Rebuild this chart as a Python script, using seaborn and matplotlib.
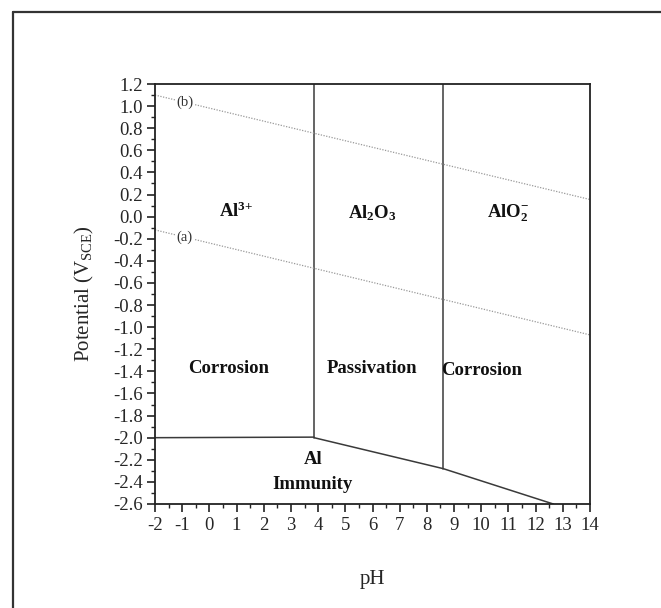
#import libraries
import numpy as np
import pandas as pd
import seaborn as sns
import matplotlib.pyplot as plt
from matplotlib.lines import Line2D

# boundary data for the Al Pourbaix diagram (pH, potential V_SCE)
low_ph = [-2, 3.85]
low_e = [-2.0, -1.995]
slope_ph = [3.85, 8.6, 12.65]
slope_e = [-2.0, -2.28, -2.6]
vert1_ph = [3.85, 3.85]
vert1_e = [-2.0, 1.2]
vert2_ph = [8.6, 8.6]
vert2_e = [-2.28, 1.2]
# water stability lines
line_a_ph = [-2, 14]
line_a_e = [-0.12, -1.07]
line_b_ph = [-2, 14]
line_b_e = [1.1, 0.155]

sns.set_style("ticks")
plt.rcParams['font.family'] = ['Liberation Serif', 'DejaVu Serif']
plt.rcParams['mathtext.fontset'] = 'custom'
plt.rcParams['mathtext.rm'] = 'Liberation Serif'
plt.rcParams['mathtext.it'] = 'Liberation Serif:italic'
plt.rcParams['mathtext.bf'] = 'Liberation Serif:bold'
plt.rcParams['axes.unicode_minus'] = False

fig = plt.figure(figsize=(6.61, 6.08), dpi=100)
ax = fig.add_axes([155/661, 1-504/608, (590-155)/661, (504-84)/608])

# outer frame (only left/top visible in the reference)
fx, fy = 12.5/661, 1-11.5/608
fig.lines.append(Line2D([fx, fx], [-0.05, fy], transform=fig.transFigure, color='#333333', lw=1.6))
fig.lines.append(Line2D([fx, 1.05], [fy, fy], transform=fig.transFigure, color='#333333', lw=1.6))

solid = dict(color='#3a3a3a', lw=1.1, sort=False, estimator=None, legend=False, ax=ax)
sns.lineplot(x=low_ph, y=low_e, **solid)
sns.lineplot(x=slope_ph, y=slope_e, **solid)
sns.lineplot(x=vert1_ph, y=vert1_e, **solid)
sns.lineplot(x=vert2_ph, y=vert2_e, **solid)
dot = dict(color='#999999', lw=0.9, sort=False, estimator=None, legend=False, ax=ax)
sns.lineplot(x=line_a_ph, y=line_a_e, linestyle=(0, (1, 1.2)), **dot)
sns.lineplot(x=line_b_ph, y=line_b_e, linestyle=(0, (1, 1.2)), **dot)

ax.text(-0.9, 1.035, "(b)", fontsize=10.5, ha='center', va='center', color='#333333',
        bbox=dict(facecolor='white', edgecolor='none', pad=0.5))
ax.text(-0.9, -0.185, "(a)", fontsize=10.5, ha='center', va='center', color='#333333',
        bbox=dict(facecolor='white', edgecolor='none', pad=0.5))

lab = dict(fontsize=13.5, ha='center', va='center', fontweight='bold', color='#111111')
ax.text(1.0, 0.05, r"$\mathbf{Al^{3{+}}}$", **lab)
ax.text(6.0, 0.03, r"$\mathbf{Al_2O_3}$", **lab)
ax.text(11.0, 0.03, r"$\mathbf{AlO_2^{-}}$", **lab)
ax.text(0.7, -1.37, "Corrosion", **lab)
ax.text(6.0, -1.37, "Passivation", **lab)
ax.text(10.0, -1.39, "Corrosion", **lab)
ax.text(3.8, -2.2, "Al", **lab)
ax.text(3.8, -2.42, "Immunity", **lab)

ax.set_xlim(-2, 14)
ax.set_ylim(-2.6, 1.2)
ax.set_xticks(np.arange(-2, 15, 1))
ax.set_xticks(np.arange(-2, 14.01, 0.5), minor=True)
ax.set_yticks(np.round(np.arange(-2.6, 1.21, 0.2), 1))
ax.set_yticks(np.arange(-2.6, 1.21, 0.1), minor=True)
ax.set_xticklabels([str(v) for v in range(-2, 15)])
ax.set_yticklabels(["%.1f" % v for v in np.round(np.arange(-2.6, 1.21, 0.2), 1)])
ax.tick_params(which='major', length=6, width=1.2, labelsize=13.5, direction='out', color='#222222', pad=3)
ax.tick_params(which='minor', length=3, width=1.0, direction='out', color='#222222')
for s in ax.spines.values():
    s.set_linewidth(1.3)
    s.set_color('#222222')

ax.set_xlabel("pH", fontsize=15, labelpad=26)
ax.set_ylabel(r"Potential (V$_{\mathrm{SCE}}$)", fontsize=15, labelpad=12)

fig.savefig("out.png", dpi=100, facecolor='white')
